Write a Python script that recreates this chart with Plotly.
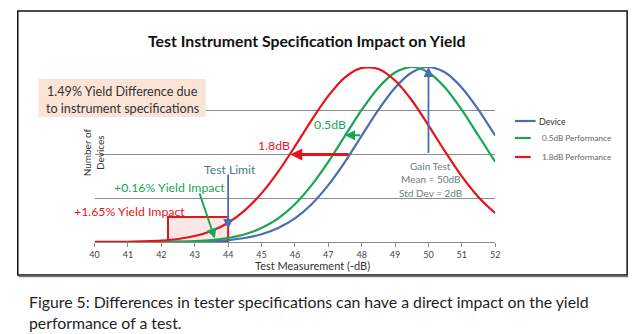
import plotly.graph_objects as go

# Test measurement grid (-dB) and normalised device counts for each curve
measurement_db = [40, 40.5, 41, 41.5, 42, 42.5, 43, 43.5, 44, 44.5, 45, 45.5, 46,
                  46.5, 47, 47.5, 48, 48.5, 49, 49.5, 50, 50.5, 51, 51.5, 52]
device = [0.0, 0.0, 0.0, 0.0001, 0.0003, 0.0009, 0.0022, 0.005, 0.011, 0.023, 0.044,
          0.080, 0.135, 0.216, 0.325, 0.458, 0.607, 0.755, 0.882, 0.969, 1.0,
          0.969, 0.882, 0.755, 0.607]
perf_05db = [0.0, 0.0, 0.0001, 0.0003, 0.0009, 0.0022, 0.005, 0.011, 0.023, 0.044,
             0.080, 0.135, 0.216, 0.325, 0.458, 0.607, 0.755, 0.882, 0.969, 1.0,
             0.969, 0.882, 0.755, 0.607, 0.458]
perf_18db = [0.0002, 0.0006, 0.0015, 0.0037, 0.008, 0.017, 0.034, 0.063, 0.110, 0.181,
             0.278, 0.402, 0.546, 0.697, 0.835, 0.941, 0.995, 0.989, 0.923, 0.810,
             0.667, 0.516, 0.375, 0.256, 0.164]
series_names = ["Device", "0.5dB Performance", "1.8dB Performance"]
x_ticks = [40, 41, 42, 43, 44, 45, 46, 47, 48, 49, 50, 51, 52]

# Test limit and yield-impact window
test_limit = 44
impact_window = [42.2, 44]
impact_height = 0.143
gain_mean = 50

BLUE = "#4a6db3"
GREEN = "#17a653"
RED = "#e5141b"
GRID = "#8c8c8c"
FONT = "Lato"

W, H = 641, 334


def px(xp):
    return xp / W


def py(yp):
    return 1 - yp / H


fig = go.Figure()
for name, ys, col in zip(series_names, [device, perf_05db, perf_18db], [BLUE, GREEN, RED]):
    fig.add_trace(go.Scatter(x=measurement_db, y=ys, name=name, mode="lines",
                             line=dict(color=col, width=2.2, shape="spline", smoothing=0.8),
                             showlegend=False, hoverinfo="skip"))

shapes = []
# outer frame with a slight shadow on the bottom edge
shapes.append(dict(type="rect", xref="paper", yref="paper", x0=px(13), x1=px(632),
                   y0=py(275), y1=py(11), line=dict(color="#111", width=1.5)))
shapes.append(dict(type="line", xref="paper", yref="paper", x0=px(14), x1=px(633),
                   y0=py(276.5), y1=py(276.5), line=dict(color="#777", width=1.5)))
# yield-impact window
shapes.append(dict(type="rect", xref="x", yref="y", x0=impact_window[0], x1=impact_window[1],
                   y0=0, y1=impact_height, fillcolor="rgba(240,120,120,0.18)",
                   line=dict(color=RED, width=2), layer="below"))
# summary box
shapes.append(dict(type="rect", xref="paper", yref="paper", x0=px(34), x1=px(204),
                   y0=py(117), y1=py(79), fillcolor="#fbe4d5", line=dict(width=0)))

# legend swatches
legend_rows = [(121, 518, 539, BLUE), (138, 518, 534, GREEN), (157, 518, 534, RED)]
for yy, x0, x1, col in legend_rows:
    shapes.append(dict(type="line", xref="paper", yref="paper", x0=px(x0), x1=px(x1),
                       y0=py(yy), y1=py(yy), line=dict(color=col, width=2.2)))

annotations = []


def text(x, y, s, size, color, xref="x", yref="y", xanchor="center", **kw):
    annotations.append(dict(x=x, y=y, xref=xref, yref=yref, text=s, showarrow=False,
                            xanchor=xanchor, yanchor="middle",
                            font=dict(family=FONT, size=size, color=color), **kw))


def arrow(x0, y0, x1, y1, color, width=2, head=2, size=1.0):
    annotations.append(dict(x=x1, y=y1, ax=x0, ay=y0, xref="x", yref="y", axref="x", ayref="y",
                            text="", showarrow=True, arrowhead=head, arrowsize=size,
                            arrowwidth=width, arrowcolor=color, standoff=0, startstandoff=0))


# title
annotations.append(dict(x=px(306), y=py(29), xref="paper", yref="paper", showarrow=False,
                        text="<b>Test Instrument Specification Impact on Yield</b>",
                        font=dict(family=FONT, size=15.8, color="#111")))
# summary box text
text(px(119), py(91), "1.49% Yield Difference due", 12.6, "#333", "paper", "paper")
text(px(119), py(108), "to instrument specifications", 12.6, "#333", "paper", "paper")

# axis titles
annotations.append(dict(x=px(75), y=py(152), xref="paper", yref="paper", showarrow=False,
                        text="Number of<br>Devices", textangle=-90,
                        font=dict(family=FONT, size=10, color="#333")))
text(px(312), py(265), "Test Measurement (-dB)", 11, "#333", "paper", "paper")

# legend text
text(px(540), py(121), "Device", 8.8, "#333", "paper", "paper", xanchor="left")
text(px(543), py(138), "0.5dB Performance", 8.2, "#666", "paper", "paper", xanchor="left")
text(px(543), py(157), "1.8dB Performance", 8.2, "#666", "paper", "paper", xanchor="left")

# chart callouts
text(41.06, 0.175, "+1.65% Yield Impact", 12.3, RED)
text(42.24, 0.314, "+0.16% Yield Impact", 12.3, GREEN)
text(44.07, 0.417, "Test Limit", 12.2, "#4b7c80")
text(45.37, 0.554, "1.8dB", 12.3, RED)
text(47.05, 0.669, "0.5dB", 12.3, GREEN)
text(50.06, 0.434, "Gain Test", 10, "#6b7b7d")
text(50.06, 0.358, "Mean = 50dB", 10, "#6b7b7d")
text(50.06, 0.281, "Std Dev = 2dB", 10, "#6b7b7d")

arrow(test_limit, 0.394, test_limit, 0.075, BLUE, width=1.8, size=1.1)
arrow(gain_mean, 0.5, gain_mean, 1.0, BLUE, width=1.8, size=1.1)
arrow(47.65, 0.5, 45.86, 0.5, RED, width=3, size=0.8)
arrow(48.0, 0.61, 47.5, 0.61, GREEN, width=2, size=1.0)
arrow(43.13, 0.286, 43.6, 0.02, GREEN, width=2, size=1.0)

# figure caption
text(px(22), py(301), "Figure 5: Differences in tester specifications can have a direct impact on the yield",
     15.8, "#1e1e1e", "paper", "paper", xanchor="left")
text(px(22), py(322), "performance of a test.", 15.8, "#1e1e1e", "paper", "paper", xanchor="left")

fig.update_layout(
    width=W, height=H, margin=dict(l=0, r=0, t=0, b=0),
    paper_bgcolor="white", plot_bgcolor="white",
    shapes=shapes, annotations=annotations, showlegend=False,
    xaxis=dict(domain=[px(91), px(498)], range=[40, 52], tickvals=x_ticks,
               ticktext=[str(t) for t in x_ticks], showgrid=False, zeroline=False,
               showline=True, linecolor=GRID, linewidth=1, ticks="outside", ticklen=4,
               tickcolor=GRID, tickfont=dict(family=FONT, size=9, color="#444")),
    yaxis=dict(domain=[py(242), py(67)], range=[0, 1], dtick=0.25, showticklabels=False,
               showgrid=True, gridcolor=GRID, gridwidth=1, zeroline=False, showline=False),
)

fig.write_html("out.html")
